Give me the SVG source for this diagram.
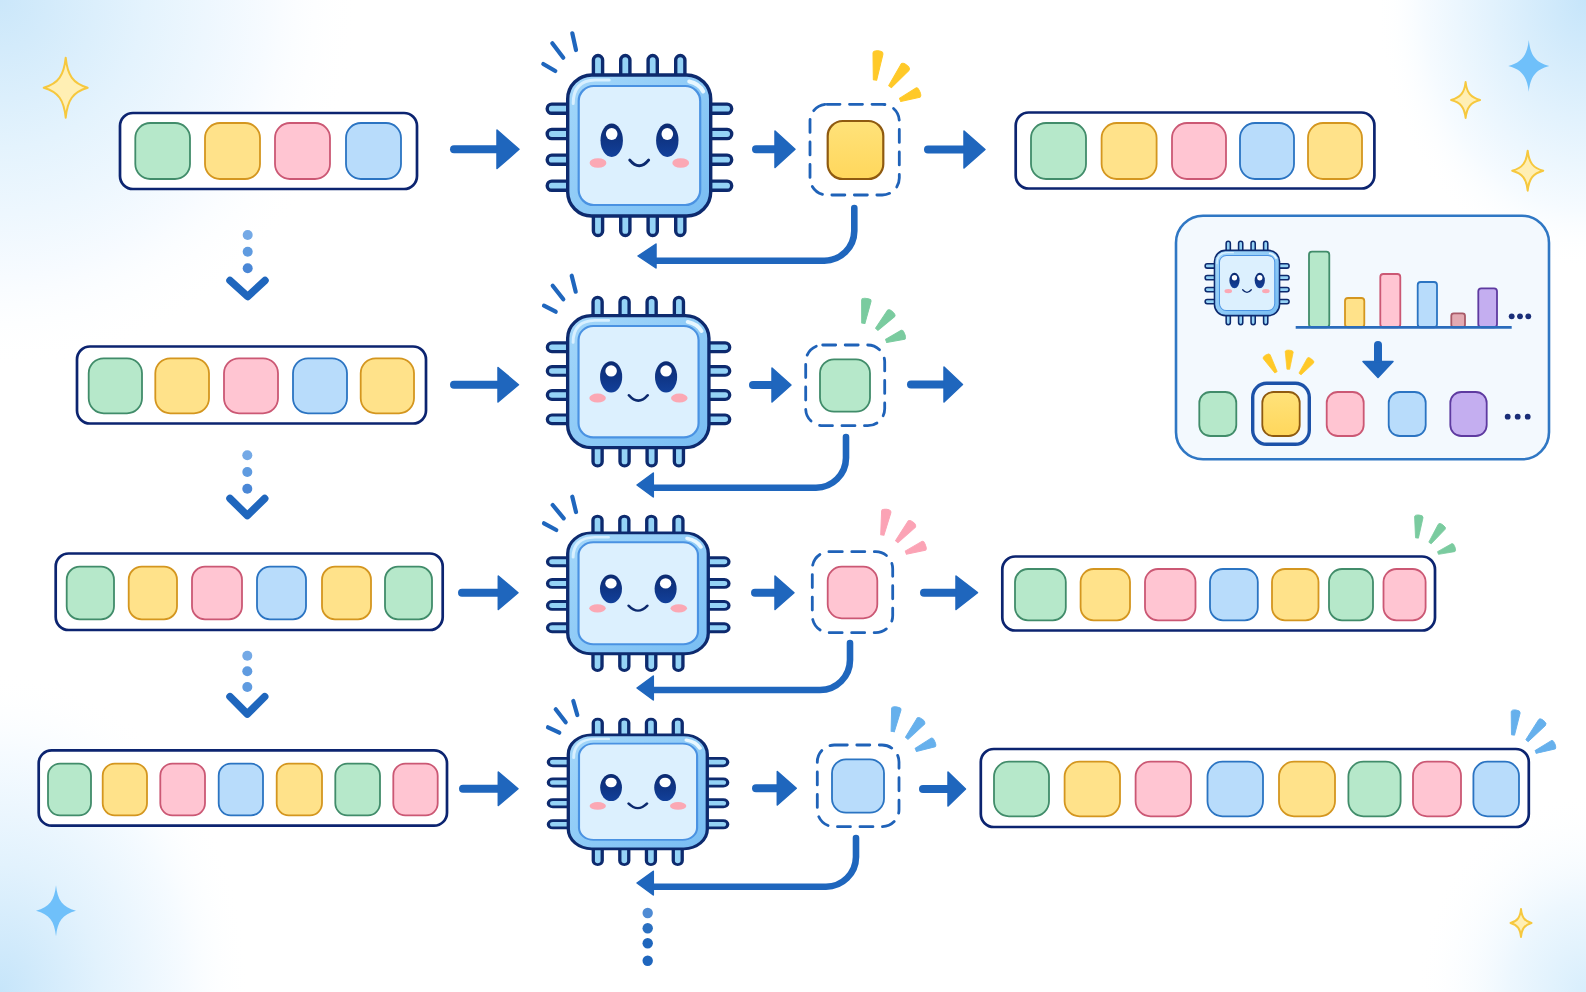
<svg xmlns="http://www.w3.org/2000/svg" width="1586" height="992" viewBox="0 0 1586 992">
<style>
  .list{fill:#fff;stroke:#0c2470;stroke-width:2.7}
  .t{stroke-width:1.8}
  .g{fill:#b6e8ca;stroke:#418c6a}
  .y{fill:#ffe28a;stroke:#d4961f}
  .p{fill:#ffc5d2;stroke:#cb5874}
  .b{fill:#b8dcfb;stroke:#2b74c2}
  .v{fill:#c4aef0;stroke:#5e3aa0}
  .m{fill:#e3aab2;stroke:#a85a68}
  .s{fill:url(#goldFill);stroke:#8f5a10;stroke-width:2.2}
  .dash{fill:none;stroke:#1f62b8;stroke-width:2.8;stroke-dasharray:13 9.5;stroke-linecap:round}
  .shaft{fill:none;stroke:#1f66bd;stroke-linecap:round}
  .head{fill:#1f66bd;stroke:#1f66bd;stroke-width:1.5;stroke-linejoin:round}
  .tick{stroke:#1f66bd;stroke-width:4.2;stroke-linecap:round}
  .pin{fill:#95d3f6;stroke:#0d2a6e;stroke-width:3.4}
  .sy{fill:#ffc928;stroke:#ffc928}.sg{fill:#7acb9f;stroke:#7acb9f}.sp{fill:#fba3b5;stroke:#fba3b5}.sb{fill:#66b0ec;stroke:#66b0ec}
  .wedge{stroke-width:1;stroke-linejoin:round}
  .staryel{fill:#ffefb4;stroke:#f6c83e;stroke-width:2;stroke-linejoin:round}
  .starblu{fill:#6fc0fa;stroke:none}
  .chev{fill:none;stroke:#1f66bd;stroke-width:7.5;stroke-linecap:round;stroke-linejoin:round}
</style>
<defs>
  <radialGradient id="cornerTL" gradientUnits="userSpaceOnUse" cx="0" cy="0" r="1" gradientTransform="translate(0 0) scale(360 370)">
    <stop offset="0" stop-color="#cbe7fa"/><stop offset=".4" stop-color="#e4f3fd"/><stop offset=".75" stop-color="#f7fbff"/><stop offset="1" stop-color="#fff" stop-opacity="0"/>
  </radialGradient>
  <radialGradient id="cornerBL" gradientUnits="userSpaceOnUse" cx="0" cy="0" r="1" gradientTransform="translate(0 992) scale(250 320)">
    <stop offset="0" stop-color="#c6e5fa"/><stop offset=".4" stop-color="#e2f2fd"/><stop offset=".75" stop-color="#f6fbff"/><stop offset="1" stop-color="#fff" stop-opacity="0"/>
  </radialGradient>
  <radialGradient id="cornerTR" gradientUnits="userSpaceOnUse" cx="0" cy="0" r="1" gradientTransform="translate(1586 0) scale(210 270)">
    <stop offset="0" stop-color="#c6e5fa"/><stop offset=".45" stop-color="#e2f2fd"/><stop offset=".78" stop-color="#f6fbff"/><stop offset="1" stop-color="#fff" stop-opacity="0"/>
  </radialGradient>
  <radialGradient id="cornerBR" gradientUnits="userSpaceOnUse" cx="0" cy="0" r="1" gradientTransform="translate(1586 992) scale(170 200)">
    <stop offset="0" stop-color="#d8eefc"/><stop offset=".45" stop-color="#edf7fe"/><stop offset="1" stop-color="#fff" stop-opacity="0"/>
  </radialGradient>
  <linearGradient id="goldFill" x1="0" y1="0" x2="0" y2="1">
    <stop offset="0" stop-color="#ffe27a"/><stop offset="1" stop-color="#ffd75c"/>
  </linearGradient>
  <linearGradient id="dieRim" x1="0" y1="0" x2="1" y2="1">
    <stop offset="0" stop-color="#a5d8fa"/><stop offset="1" stop-color="#78bdf3"/>
  </linearGradient>
  <linearGradient id="iris" x1="0" y1="0" x2="0" y2="1">
    <stop offset="0" stop-color="#0c2a70"/><stop offset="1" stop-color="#12409a"/>
  </linearGradient>

  <!-- processor with a face, centred on the origin -->
  <g id="chip">
    <rect class="pin" x="-45.8" y="-90" width="9.2" height="24" rx="4.6"/>
    <rect class="pin" x="-18.5" y="-90" width="9.2" height="24" rx="4.6"/>
    <rect class="pin" x="8.9" y="-90" width="9.2" height="24" rx="4.6"/>
    <rect class="pin" x="36.5" y="-90" width="9.2" height="24" rx="4.6"/>
    <rect class="pin" x="-45.8" y="66" width="9.2" height="24" rx="4.6"/>
    <rect class="pin" x="-18.5" y="66" width="9.2" height="24" rx="4.6"/>
    <rect class="pin" x="8.9" y="66" width="9.2" height="24" rx="4.6"/>
    <rect class="pin" x="36.5" y="66" width="9.2" height="24" rx="4.6"/>
    <rect class="pin" x="-92" y="-41.4" width="26" height="9.2" rx="4.6"/>
    <rect class="pin" x="-92" y="-16.1" width="26" height="9.2" rx="4.6"/>
    <rect class="pin" x="-92" y="9.6" width="26" height="9.2" rx="4.6"/>
    <rect class="pin" x="-92" y="35.6" width="26" height="9.2" rx="4.6"/>
    <rect class="pin" x="66" y="-41.4" width="26.5" height="9.2" rx="4.6"/>
    <rect class="pin" x="66" y="-16.1" width="26.5" height="9.2" rx="4.6"/>
    <rect class="pin" x="66" y="9.6" width="26.5" height="9.2" rx="4.6"/>
    <rect class="pin" x="66" y="35.6" width="26.5" height="9.2" rx="4.6"/>
    <rect x="-71.5" y="-70.5" width="143" height="141" rx="24" fill="url(#dieRim)" stroke="#0d2a6e" stroke-width="3.4"/>
    <path d="M-66 -42Q-66 -65 -44 -65.5H-30" fill="none" stroke="#d8f0ff" stroke-width="3" stroke-linecap="round"/>
    <path d="M50 -64Q60 -62 64 -54" fill="none" stroke="#e8f7ff" stroke-width="4" stroke-linecap="round"/>
    <rect x="-60.5" y="-59.5" width="121.5" height="119" rx="15" fill="#dcf0fe" stroke="#4a92e2" stroke-width="2.2"/>
    <ellipse cx="-27.5" cy="-5.2" rx="11.2" ry="16.7" fill="url(#iris)"/>
    <ellipse cx="28.1" cy="-5.2" rx="11.2" ry="16.7" fill="url(#iris)"/>
    <ellipse cx="-27.5" cy="-11.5" rx="5.8" ry="6" fill="#fff"/>
    <ellipse cx="28.1" cy="-11.5" rx="5.8" ry="6" fill="#fff"/>
    <ellipse cx="-41.2" cy="17.5" rx="8.4" ry="4.8" fill="#fba8b4"/>
    <ellipse cx="41.5" cy="17.5" rx="8.4" ry="4.8" fill="#fba8b4"/>
    <path d="M-9.5 14.5Q0 26 9.5 14.5" fill="none" stroke="#0d2a6e" stroke-width="2.8" stroke-linecap="round"/>
  </g>

  <!-- burst stroke, narrow end at the origin, pointing up -->
  <path id="wedge" d="M-1.7 0L-5 -27Q-5.2 -30 0 -30Q5.2 -30 5 -27L1.7 0Z"/>
  <!-- four-point sparkle, unit size -->
  <path id="sparkle" vector-effect="non-scaling-stroke" d="M0 -1C.08 -.42 .32 -.14 1 0C.32 .14 .08 .42 0 1C-.08 .42 -.32 .14 -1 0C-.32 -.14 -.08 -.42 0 -1Z"/>
</defs>

<!-- page wash -->
<rect width="1586" height="992" fill="#fff"/>
<rect width="1586" height="992" fill="url(#cornerTL)"/>
<rect width="1586" height="992" fill="url(#cornerBL)"/>
<rect width="1586" height="992" fill="url(#cornerTR)"/>
<rect width="1586" height="992" fill="url(#cornerBR)"/>

<g id="sparkles">
  <use href="#sparkle" class="staryel" transform="translate(65.7 87.7) scale(22 30)"/>
  <use href="#sparkle" class="starblu" transform="translate(1528.8 66) scale(20.5 26)"/>
  <use href="#sparkle" class="staryel" transform="translate(1465.6 100) scale(14.5 18)"/>
  <use href="#sparkle" class="staryel" transform="translate(1527.7 170.7) scale(15.5 20)"/>
  <use href="#sparkle" class="starblu" transform="translate(56 910.7) scale(20 25.5)"/>
  <use href="#sparkle" class="staryel" transform="translate(1521 923) scale(10.5 14)"/>
</g>

<g id="connectors">
  <!-- row 1 -->
  <path class="shaft" stroke-width="8" d="M454 149.3H500"/><polygon class="head" points="497,130 519,149.3 497,168.5"/>
  <path class="shaft" stroke-width="8" d="M756 149.3H778"/><polygon class="head" points="775,131 795,149.3 775,167.5"/>
  <path class="shaft" stroke-width="8" d="M928 149.5H966"/><polygon class="head" points="964,131 985,149.5 964,168"/>
  <path class="shaft" stroke-width="6.6" d="M854.3 208V231A30 30 0 0 1 824.3 260.7H654"/><polygon class="head" points="638,256 656,244 656,268"/>
  <!-- row 2 -->
  <path class="shaft" stroke-width="8" d="M454 384.7H500"/><polygon class="head" points="498,367.5 518.5,384.7 498,402"/>
  <path class="shaft" stroke-width="8" d="M753 385H774"/><polygon class="head" points="772,368 791,385 772,402"/>
  <path class="shaft" stroke-width="8" d="M911 384.5H946"/><polygon class="head" points="944,367 962.5,384.5 944,402"/>
  <path class="shaft" stroke-width="6.6" d="M846 437V458A30 30 0 0 1 816 487.7H652"/><polygon class="head" points="637,485 653.3,473 653.3,497"/>
  <!-- row 3 -->
  <path class="shaft" stroke-width="8" d="M462 592.7H500"/><polygon class="head" points="498.3,576 518,592.7 498.3,609.5"/>
  <path class="shaft" stroke-width="8" d="M755 592.7H777"/><polygon class="head" points="775,576 794,592.7 775,609.5"/>
  <path class="shaft" stroke-width="8" d="M924 592.7H958"/><polygon class="head" points="956,576 977.5,592.7 956,609.5"/>
  <path class="shaft" stroke-width="6.6" d="M850 643V660A30 30 0 0 1 820 690H652"/><polygon class="head" points="637,688 653.3,676 653.3,700"/>
  <!-- row 4 -->
  <path class="shaft" stroke-width="8" d="M463 788.7H500"/><polygon class="head" points="498.3,772 518,788.7 498.3,805.5"/>
  <path class="shaft" stroke-width="8" d="M756 788.3H779"/><polygon class="head" points="777.3,771.5 796.3,788.3 777.3,805"/>
  <path class="shaft" stroke-width="8" d="M923 789H950"/><polygon class="head" points="948,772 965.5,789 948,806"/>
  <path class="shaft" stroke-width="6.6" d="M856 838V857A30 30 0 0 1 826 886.7H652"/><polygon class="head" points="637,883 653.3,871.3 653.3,895"/>
  <!-- dotted links between rows -->
  <circle cx="247.7" cy="235" r="5" fill="#74a9e6"/><circle cx="247.7" cy="251.7" r="5" fill="#5f9be0"/><circle cx="247.7" cy="268.3" r="5" fill="#4a87d6"/>
  <path class="chev" d="M230 280.5L247.7 296.5L265 280.5"/>
  <circle cx="247.3" cy="455.3" r="5" fill="#74a9e6"/><circle cx="247.3" cy="472" r="5" fill="#5f9be0"/><circle cx="247.3" cy="488.7" r="5" fill="#4a87d6"/>
  <path class="chev" d="M230 498.5L247.3 515.5L264.7 498.5"/>
  <circle cx="247.3" cy="655.7" r="5" fill="#74a9e6"/><circle cx="247.3" cy="671.3" r="5" fill="#5f9be0"/><circle cx="247.3" cy="687" r="5" fill="#5f9be0"/>
  <path class="chev" d="M230 696.7L247.3 714L264.7 696.7"/>
  <circle cx="647.7" cy="913" r="5.2" fill="#4f8bd4"/><circle cx="647.7" cy="928.3" r="5.2" fill="#2a6fc0"/><circle cx="647.7" cy="943.3" r="5.2" fill="#1f66bd"/><circle cx="647.7" cy="960.7" r="5.2" fill="#1f66bd"/>
</g>

<g id="list-in-1">
  <rect class="list" x="120" y="113" width="297" height="76" rx="13"/>
  <rect class="t g" x="135.3" y="123" width="54.7" height="56" rx="15"/>
  <rect class="t y" x="205" y="123" width="55" height="56" rx="15"/>
  <rect class="t p" x="275" y="123" width="55" height="56" rx="15"/>
  <rect class="t b" x="346" y="123" width="55" height="56" rx="15"/>
</g>
<g id="chip-1">
  <use href="#chip" transform="translate(639.2 145.5)"/>
  <line class="tick" x1="572.3" y1="33.3" x2="576" y2="50"/>
  <line class="tick" x1="552.3" y1="43.3" x2="563.3" y2="57.7"/>
  <line class="tick" x1="543.3" y1="64" x2="555.3" y2="71"/>
</g>
<g id="pick-1">
  <rect class="dash" x="810" y="104.3" width="89.3" height="90.7" rx="17"/>
  <rect class="s" x="827.7" y="121" width="55.6" height="58" rx="15"/>
  <use href="#wedge" class="wedge sy" transform="translate(875 80) rotate(6.4) scale(1 .98)"/>
  <use href="#wedge" class="wedge sy" transform="translate(890 86.7) rotate(37.6) scale(1 .91)"/>
  <use href="#wedge" class="wedge sy" transform="translate(900 100) rotate(67.5) scale(1 .72)"/>
</g>
<g id="list-out-1">
  <rect class="list" x="1015.7" y="112.5" width="358.7" height="76" rx="13"/>
  <rect class="t g" x="1031" y="123" width="55" height="56" rx="15"/>
  <rect class="t y" x="1101.6" y="123" width="55" height="56" rx="15"/>
  <rect class="t p" x="1172" y="123" width="54" height="56" rx="15"/>
  <rect class="t b" x="1240" y="123" width="54" height="56" rx="15"/>
  <rect class="t y" x="1308" y="123" width="54" height="56" rx="15"/>
</g>

<g id="list-in-2">
  <rect class="list" x="77" y="346.5" width="349" height="77" rx="13"/>
  <rect class="t g" x="88.7" y="358.3" width="53.3" height="55" rx="15"/>
  <rect class="t y" x="155.3" y="358.3" width="53.7" height="55" rx="15"/>
  <rect class="t p" x="224" y="358.3" width="54" height="55" rx="15"/>
  <rect class="t b" x="293" y="358.3" width="54" height="55" rx="15"/>
  <rect class="t y" x="360.7" y="358.3" width="53.3" height="55" rx="15"/>
</g>
<g id="chip-2">
  <use href="#chip" transform="translate(638.3 381.7) scale(.988 .936)"/>
  <line class="tick" x1="571.7" y1="275.7" x2="575.7" y2="291.7"/>
  <line class="tick" x1="552.7" y1="285.7" x2="563.3" y2="299.3"/>
  <line class="tick" x1="544" y1="305.7" x2="555.7" y2="311.7"/>
</g>
<g id="pick-2">
  <rect class="dash" x="805.7" y="345" width="79" height="80.7" rx="17"/>
  <rect class="t g" x="820" y="359.3" width="50" height="52.4" rx="14"/>
  <use href="#wedge" class="wedge sg" transform="translate(863.3 323.3) rotate(7.7) scale(.95 .84)"/>
  <use href="#wedge" class="wedge sg" transform="translate(876.7 329.3) rotate(42.3) scale(.95 .79)"/>
  <use href="#wedge" class="wedge sg" transform="translate(886 341) rotate(69.8) scale(.95 .67)"/>
</g>

<g id="list-in-3">
  <rect class="list" x="55.7" y="553.5" width="387" height="76.5" rx="13"/>
  <rect class="t g" x="66.7" y="566.7" width="47.3" height="52.6" rx="13"/>
  <rect class="t y" x="128.7" y="566.7" width="48.3" height="52.6" rx="13"/>
  <rect class="t p" x="192" y="566.7" width="50" height="52.6" rx="13"/>
  <rect class="t b" x="257" y="566.7" width="49" height="52.6" rx="13"/>
  <rect class="t y" x="322" y="566.7" width="49" height="52.6" rx="13"/>
  <rect class="t g" x="385" y="566.7" width="47" height="52.6" rx="13"/>
</g>
<g id="chip-3">
  <use href="#chip" transform="translate(638 593.3) scale(.983 .857)"/>
  <line class="tick" x1="572.3" y1="496.7" x2="576" y2="512"/>
  <line class="tick" x1="552.7" y1="505" x2="563.7" y2="518.3"/>
  <line class="tick" x1="544" y1="523.3" x2="556.3" y2="530"/>
</g>
<g id="pick-3">
  <rect class="dash" x="812.3" y="551.7" width="80.4" height="81" rx="17"/>
  <rect class="t p" x="827.7" y="566.7" width="49.6" height="51.6" rx="14"/>
  <use href="#wedge" class="wedge sp" transform="translate(882.3 535) rotate(9.7) scale(.95 .87)"/>
  <use href="#wedge" class="wedge sp" transform="translate(896.7 541.7) rotate(40.5) scale(.95 .85)"/>
  <use href="#wedge" class="wedge sp" transform="translate(905.7 552.7) rotate(69) scale(.95 .71)"/>
</g>
<g id="list-out-3">
  <rect class="list" x="1002.3" y="556.5" width="432.7" height="74" rx="13"/>
  <rect class="t g" x="1015" y="569" width="50.8" height="51.3" rx="13"/>
  <rect class="t y" x="1080.6" y="569" width="49.4" height="51.3" rx="13"/>
  <rect class="t p" x="1145" y="569" width="50.5" height="51.3" rx="13"/>
  <rect class="t b" x="1210" y="569" width="47.8" height="51.3" rx="13"/>
  <rect class="t y" x="1272" y="569" width="46.5" height="51.3" rx="13"/>
  <rect class="t g" x="1329" y="569" width="44" height="51.3" rx="13"/>
  <rect class="t p" x="1383.5" y="569" width="42.1" height="51.3" rx="13"/>
  <use href="#wedge" class="wedge sg" transform="translate(1417 538) rotate(5) scale(.85 .77)"/>
  <use href="#wedge" class="wedge sg" transform="translate(1430 543) rotate(35.8) scale(.85 .74)"/>
  <use href="#wedge" class="wedge sg" transform="translate(1438 553) rotate(70.6) scale(.85 .6)"/>
</g>

<g id="list-in-4">
  <rect class="list" x="38.7" y="750.3" width="408.3" height="75.4" rx="13"/>
  <rect class="t g" x="48" y="763.7" width="43" height="51.6" rx="12"/>
  <rect class="t y" x="102.7" y="763.7" width="44.3" height="51.6" rx="12"/>
  <rect class="t p" x="160.3" y="763.7" width="44.7" height="51.6" rx="12"/>
  <rect class="t b" x="218.7" y="763.7" width="44.3" height="51.6" rx="12"/>
  <rect class="t y" x="276.7" y="763.7" width="45.3" height="51.6" rx="12"/>
  <rect class="t g" x="335.3" y="763.7" width="44.7" height="51.6" rx="12"/>
  <rect class="t p" x="393.3" y="763.7" width="44.4" height="51.6" rx="12"/>
</g>
<g id="chip-4">
  <use href="#chip" transform="translate(637.8 791.8) scale(.972 .808)"/>
  <line class="tick" x1="573.3" y1="701" x2="577.3" y2="715"/>
  <line class="tick" x1="555.7" y1="709.3" x2="565.7" y2="722.3"/>
  <line class="tick" x1="548" y1="727.3" x2="559.3" y2="732.7"/>
</g>
<g id="pick-4">
  <rect class="dash" x="817.3" y="745" width="81.7" height="81.7" rx="17"/>
  <rect class="t b" x="832" y="759.3" width="52" height="53.4" rx="14"/>
  <use href="#wedge" class="wedge sb" transform="translate(892.7 731.7) rotate(9.1) scale(.95 .84)"/>
  <use href="#wedge" class="wedge sb" transform="translate(906.7 738.3) rotate(39.4) scale(.95 .82)"/>
  <use href="#wedge" class="wedge sb" transform="translate(915.7 750) rotate(66.7) scale(.95 .7)"/>
</g>
<g id="list-out-4">
  <rect class="list" x="980.8" y="749" width="548" height="78" rx="13"/>
  <rect class="t g" x="994" y="761.7" width="55" height="54.6" rx="15"/>
  <rect class="t y" x="1064.6" y="761.7" width="55.4" height="54.6" rx="15"/>
  <rect class="t p" x="1135.6" y="761.7" width="55.4" height="54.6" rx="15"/>
  <rect class="t b" x="1207.5" y="761.7" width="55.5" height="54.6" rx="15"/>
  <rect class="t y" x="1279" y="761.7" width="56" height="54.6" rx="15"/>
  <rect class="t g" x="1348.4" y="761.7" width="52.2" height="54.6" rx="15"/>
  <rect class="t p" x="1413" y="761.7" width="48" height="54.6" rx="14"/>
  <rect class="t b" x="1473.4" y="761.7" width="45.6" height="54.6" rx="14"/>
  <use href="#wedge" class="wedge sb" transform="translate(1513 735) rotate(6.8) scale(.9 .84)"/>
  <use href="#wedge" class="wedge sb" transform="translate(1527 740.7) rotate(39.7) scale(.9 .87)"/>
  <use href="#wedge" class="wedge sb" transform="translate(1535.6 752) rotate(67.6) scale(.9 .7)"/>
</g>

<g id="panel">
  <rect x="1176" y="215.7" width="373" height="243.6" rx="27" fill="#f3f9fe" stroke="#2f77c4" stroke-width="2.6"/>
  <use href="#chip" transform="translate(1247 283) scale(.455 .463)"/>
  <rect class="t g" x="1309" y="251.7" width="20.3" height="75.6" rx="3"/>
  <rect class="t y" x="1345" y="298" width="19.3" height="29.3" rx="3"/>
  <rect class="t p" x="1380.3" y="274" width="20" height="53.3" rx="3"/>
  <rect class="t b" x="1417.7" y="282" width="19.3" height="45.3" rx="3"/>
  <rect class="t m" x="1451.3" y="313.3" width="13.7" height="14" rx="2.5"/>
  <rect class="t v" x="1478.3" y="288.3" width="18.7" height="39" rx="3"/>
  <line x1="1295.7" y1="327.3" x2="1511.7" y2="327.3" stroke="#2a6cbc" stroke-width="2.8"/>
  <circle cx="1511.7" cy="316.3" r="2.9" fill="#1a2e78"/><circle cx="1520" cy="316.3" r="2.9" fill="#1a2e78"/><circle cx="1528.3" cy="316.3" r="2.9" fill="#1a2e78"/>
  <path class="shaft" stroke-width="8" stroke-linecap="butt" d="M1378 345V363"/><polygon class="head" points="1363,361.5 1393,361.5 1378,377.5"/>
  <use href="#wedge" class="wedge sy" transform="translate(1276 372.3) rotate(-30.8) scale(.8 .67)"/>
  <use href="#wedge" class="wedge sy" transform="translate(1288.3 369.3) rotate(3) scale(.8 .64)"/>
  <use href="#wedge" class="wedge sy" transform="translate(1300 374) rotate(38) scale(.8 .63)"/>
  <rect x="1252.7" y="383.3" width="56.6" height="61" rx="14" fill="none" stroke="#1d52a8" stroke-width="3.4"/>
  <rect class="t g" x="1199.3" y="392" width="37" height="44" rx="11"/>
  <rect class="s" style="stroke-width:1.8" x="1262.3" y="392" width="37.4" height="44" rx="11"/>
  <rect class="t p" x="1326.7" y="392" width="37" height="44" rx="11"/>
  <rect class="t b" x="1388.7" y="392" width="37" height="44" rx="11"/>
  <rect class="t v" x="1450.3" y="392" width="36.4" height="44" rx="11"/>
  <circle cx="1507.7" cy="416.7" r="2.9" fill="#1a2e78"/><circle cx="1517.7" cy="416.7" r="2.9" fill="#1a2e78"/><circle cx="1527.7" cy="416.7" r="2.9" fill="#1a2e78"/>
</g>
</svg>
